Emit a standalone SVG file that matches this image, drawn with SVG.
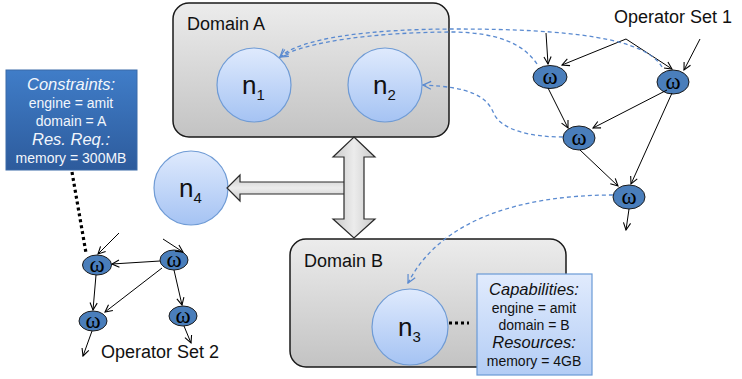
<svg xmlns="http://www.w3.org/2000/svg" width="742" height="379" viewBox="0 0 742 379">
  <defs>
    <linearGradient id="gDomain" x1="0" y1="0" x2="0" y2="1">
      <stop offset="0" stop-color="#ececec"/>
      <stop offset="1" stop-color="#c3c3c3"/>
    </linearGradient>
    <linearGradient id="gCircle" x1="0" y1="0" x2="0" y2="1">
      <stop offset="0" stop-color="#dfeafd"/>
      <stop offset="1" stop-color="#a5c3f3"/>
    </linearGradient>
    <linearGradient id="gDark" x1="0" y1="0" x2="0" y2="1">
      <stop offset="0" stop-color="#407dc8"/>
      <stop offset="1" stop-color="#2d5b9c"/>
    </linearGradient>
    <linearGradient id="gLight" x1="0" y1="0" x2="0" y2="1">
      <stop offset="0" stop-color="#e1ebfd"/>
      <stop offset="1" stop-color="#b3cdf5"/>
    </linearGradient>
    <linearGradient id="gArrowV" x1="0" y1="0" x2="1" y2="0">
      <stop offset="0" stop-color="#c9c9c9"/>
      <stop offset="0.5" stop-color="#ececec"/>
      <stop offset="1" stop-color="#c9c9c9"/>
    </linearGradient>
    <linearGradient id="gArrowH" x1="0" y1="0" x2="0" y2="1">
      <stop offset="0" stop-color="#c9c9c9"/>
      <stop offset="0.5" stop-color="#ececec"/>
      <stop offset="1" stop-color="#c9c9c9"/>
    </linearGradient>
    <marker id="mBlack" viewBox="0 0 10 10" refX="9" refY="5" markerWidth="9" markerHeight="9" markerUnits="userSpaceOnUse" orient="auto">
      <path d="M1,1 L9,5 L1,9" fill="none" stroke="#000" stroke-width="1.2"/>
    </marker>
    <marker id="mBlue" viewBox="0 0 10 10" refX="9" refY="5" markerWidth="10" markerHeight="10" markerUnits="userSpaceOnUse" orient="auto">
      <path d="M1,1 L9,5 L1,9" fill="none" stroke="#5a8ad0" stroke-width="1.2"/>
    </marker>
  </defs>
  <style>
    text { font-family: "Liberation Sans", Arial, sans-serif; }
    .domain { fill: url(#gDomain); stroke: #1a1a1a; stroke-width: 1.5; }
    .label { font-size: 18px; fill: #111; }
    .node { fill: url(#gCircle); stroke: #6f9bd5; stroke-width: 1.2; }
    .nname { font-size: 26px; fill: #111; }
    .nsub { font-size: 15px; }
    .op { fill: #4a7ebb; stroke: #1b1b1b; stroke-width: 1; }
    .omega { font-family: "Liberation Serif", "Times New Roman", serif; font-size: 23px; fill: #000; text-anchor: middle; }
    .edge { fill: none; stroke: #000; stroke-width: 1; marker-end: url(#mBlack); }
    .map { fill: none; stroke: #5a8ad0; stroke-width: 1.3; stroke-dasharray: 4 3; marker-end: url(#mBlue); }
    .dots { fill: none; stroke: #000; stroke-width: 3.2; stroke-dasharray: 3 3; }
    .darkbox { fill: url(#gDark); stroke: #3a6aa8; stroke-width: 1; }
    .lightbox { fill: url(#gLight); stroke: #6a9ad6; stroke-width: 1.2; }
    .boxtxt { text-anchor: middle; font-size: 14px; }
    .boxhead { text-anchor: middle; font-size: 16.5px; font-style: italic; }
    .big { fill: url(#gArrowV); stroke: #2a2a2a; stroke-width: 1.2; stroke-linejoin: miter; }
    .bigh { fill: url(#gArrowH); stroke: #2a2a2a; stroke-width: 1.2; }
  </style>

  <!-- Domain A with its nodes -->
  <g id="domainA">
    <rect class="domain" x="173" y="3" width="276" height="134" rx="16"/>
    <text class="label" x="187" y="30">Domain A</text>
  </g>
  <g id="n1">
    <circle class="node" cx="254" cy="85" r="37"/>
    <text class="nname" x="242" y="94">n<tspan class="nsub" dy="6">1</tspan></text>
  </g>
  <g id="n2">
    <circle class="node" cx="385" cy="85" r="37"/>
    <text class="nname" x="373" y="94">n<tspan class="nsub" dy="6">2</tspan></text>
  </g>

  <!-- Domain B with its node -->
  <g id="domainB">
    <rect class="domain" x="290" y="239" width="276" height="128" rx="16"/>
    <text class="label" x="304" y="267">Domain B</text>
  </g>
  <g id="n3">
    <circle class="node" cx="410" cy="327" r="38"/>
    <text class="nname" x="398" y="336">n<tspan class="nsub" dy="6">3</tspan></text>
  </g>

  <!-- Stand-alone node -->
  <g id="n4">
    <circle class="node" cx="191" cy="188" r="37"/>
    <text class="nname" x="179" y="197">n<tspan class="nsub" dy="6">4</tspan></text>
  </g>

  <!-- Block arrows between the domains and n4 -->
  <g id="links">
    <path class="bigh" d="M345,182 L240,182 L240,175 L227,188 L240,201 L240,194 L345,194"/>
    <path class="big" d="M354,137 L375,157 L364,157 L364,219 L375,219 L354,238 L333,219 L344,219 L344,157 L333,157 Z"/>
  </g>

  <!-- Constraints of Operator Set 2 -->
  <g id="constraints">
    <rect class="darkbox" x="6" y="70" width="131" height="100"/>
    <g fill="#f2f6fc">
      <text class="boxhead" x="71" y="90">Constraints:</text>
      <text class="boxtxt" x="71" y="108">engine = amit</text>
      <text class="boxtxt" x="71" y="126">domain = A</text>
      <text class="boxhead" x="71" y="145">Res. Req.:</text>
      <text class="boxtxt" x="71" y="163">memory = 300MB</text>
    </g>
  </g>

  <!-- Capabilities of n3 -->
  <g id="capabilities">
    <rect class="lightbox" x="477" y="274" width="115" height="101"/>
    <g fill="#111">
      <text class="boxhead" x="534" y="295">Capabilities:</text>
      <text class="boxtxt" x="534" y="313">engine = amit</text>
      <text class="boxtxt" x="534" y="330">domain = B</text>
      <text class="boxhead" x="534" y="348">Resources:</text>
      <text class="boxtxt" x="534" y="366">memory = 4GB</text>
    </g>
  </g>

  <!-- Operator Set 1 -->
  <g id="opset1">
    <text class="label" x="614" y="23">Operator Set 1</text>
    <g id="op1a"><ellipse class="op" cx="550" cy="77" rx="17" ry="11.5"/><text class="omega" x="550" y="84">ω</text></g>
    <g id="op1b"><ellipse class="op" cx="673" cy="82" rx="16" ry="12"/><text class="omega" x="673" y="89">ω</text></g>
    <g id="op1c"><ellipse class="op" cx="579" cy="138" rx="16" ry="12"/><text class="omega" x="579" y="145">ω</text></g>
    <g id="op1d"><ellipse class="op" cx="629" cy="197" rx="16" ry="12"/><text class="omega" x="629" y="204">ω</text></g>
  </g>

  <!-- Operator Set 2 -->
  <g id="opset2">
    <text class="label" x="101" y="358">Operator Set 2</text>
    <g id="op2a"><ellipse class="op" cx="97" cy="265" rx="14.5" ry="10"/><text class="omega" x="97" y="272">ω</text></g>
    <g id="op2b"><ellipse class="op" cx="174" cy="260" rx="14" ry="10"/><text class="omega" x="174" y="267">ω</text></g>
    <g id="op2c"><ellipse class="op" cx="93" cy="321" rx="14" ry="10"/><text class="omega" x="93" y="328">ω</text></g>
    <g id="op2d"><ellipse class="op" cx="183" cy="316" rx="14" ry="10"/><text class="omega" x="183" y="323">ω</text></g>
  </g>

  <!-- Connectors -->
  <g id="connectors">
    <!-- Operator Set 1 edges -->
    <path class="edge" d="M546,33 L548,64"/>
    <path class="edge" d="M626,39 L562,65"/>
    <path class="edge" d="M626,39 L672,69"/>
    <path class="edge" d="M700,39 L684,70"/>
    <path class="edge" d="M548,88 L568,128"/>
    <path class="edge" d="M667,90 L593,128"/>
    <path class="edge" d="M672,93 L631,184"/>
    <path class="edge" d="M580,150 L618,186"/>
    <path class="edge" d="M629,209 L626,230"/>

    <!-- Operator Set 2 edges -->
    <path class="edge" d="M119,233 L98,254"/>
    <path class="edge" d="M163,239 L183,252"/>
    <path class="edge" d="M160,261 L112,264"/>
    <path class="edge" d="M96,275 L93,310"/>
    <path class="edge" d="M162,268 L105,312"/>
    <path class="edge" d="M174,270 L182,305"/>
    <path class="edge" d="M92,331 L83,356"/>
    <path class="edge" d="M184,326 L191,343"/>

    <!-- Placement mappings -->
    <path class="map" d="M662,67 C645,38 570,29 455,29 C370,29 300,38 280,57"/>
    <path class="map" d="M537,64 C522,42 495,33 455,32 C375,32 305,42 280,57"/>
    <path class="map" d="M563,137 C530,137 502,130 494,114 C487,96 470,87 423,85"/>
    <path class="map" d="M613,195 C520,195 440,220 408,283"/>

    <!-- Attribute annotations -->
    <path class="dots" d="M72,172 L86,253"/>
    <path class="dots" d="M449,323 L469,323"/>
  </g>
</svg>
